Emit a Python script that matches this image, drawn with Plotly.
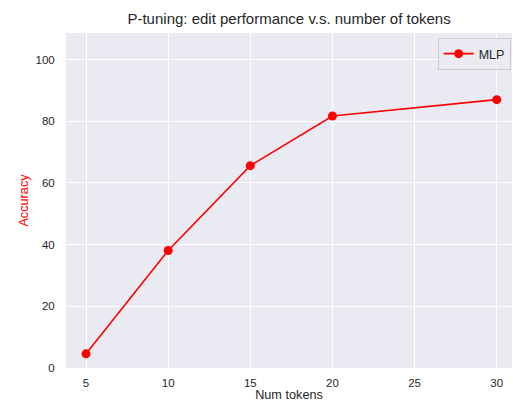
import plotly.graph_objects as go

num_tokens = [5, 10, 15, 20, 30]
accuracy = [4.6, 38.1, 65.6, 81.7, 87.0]
series_name = "MLP"
x_ticks = [5, 10, 15, 20, 25, 30]
y_ticks = [0, 20, 40, 60, 80, 100]

fig = go.Figure()
fig.add_trace(go.Scatter(
    x=num_tokens, y=accuracy, mode="lines+markers", name=series_name,
    line=dict(color="red", width=1.6),
    marker=dict(color="red", size=9),
))

font_family = "Liberation Sans, Arial, sans-serif"
fig.update_layout(
    width=513, height=402,
    margin=dict(l=66, r=1, t=33, b=34),
    paper_bgcolor="white",
    plot_bgcolor="#EAEAF2",
    font=dict(family=font_family, size=11.5, color="#262626"),
    title=dict(text="P-tuning: edit performance v.s. number of tokens",
               x=0.5635, xanchor="center", y=0.953, yanchor="middle",
               font=dict(size=15, color="#262626")),
    showlegend=True,
    legend=dict(x=0.997, y=0.985, xanchor="right", yanchor="top",
                bgcolor="rgba(234,234,242,0.8)", bordercolor="#CCCCCC",
                borderwidth=1, tracegroupgap=0,
                font=dict(size=12.5, color="#262626")),
    xaxis=dict(range=[3.78, 30.93], tickvals=x_ticks, showgrid=True,
               gridcolor="white", gridwidth=1, zeroline=False,
               automargin=False,
               ticks="outside", ticklen=4, tickcolor="rgba(0,0,0,0)",
               tickfont=dict(size=11.5, color="#262626"),
               title=dict(text="Num tokens", standoff=4,
                          font=dict(size=12.7, color="#262626"))),
    yaxis=dict(range=[0, 108.6], tickvals=y_ticks, showgrid=True,
               gridcolor="white", gridwidth=1, zeroline=False,
               automargin=False,
               ticks="outside", ticklen=8, tickcolor="rgba(0,0,0,0)",
               tickfont=dict(size=11.5, color="#262626"),
               title=dict(text="Accuracy", standoff=4,
                          font=dict(size=12.7, color="red"))),
)

fig.write_html("out.html", config={"displayModeBar": False},
               post_script="document.body.style.margin='0';document.body.style.overflow='hidden';")
